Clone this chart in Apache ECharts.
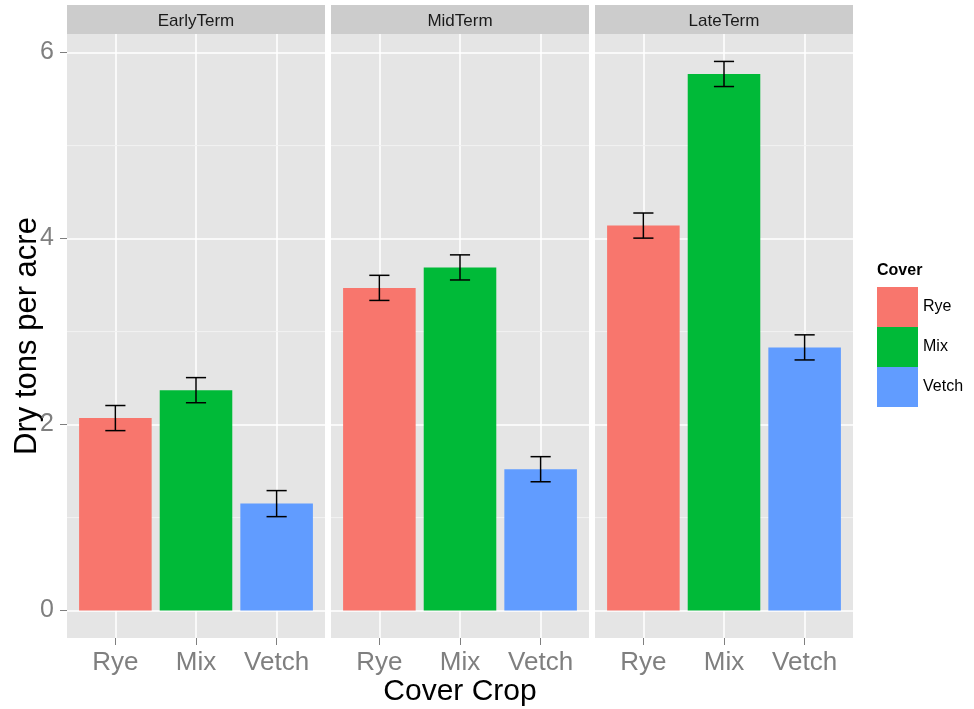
<!DOCTYPE html>
<html>
<head>
<meta charset="utf-8">
<script src="https://cdn.jsdelivr.net/npm/echarts@6/dist/echarts.min.js"></script>
<style>
  html, body { margin: 0; padding: 0; background: #ffffff; }
  #chart { width: 974px; height: 709px; }
</style>
</head>
<body>
<div id="chart"></div>
<script>
// Facets (termination timing) and cover crop treatments
const terms = ['EarlyTerm', 'MidTerm', 'LateTerm'];
const covers = ['Rye', 'Mix', 'Vetch'];

// Mean dry biomass (tons per acre) for Rye, Mix, Vetch in each facet
const earlyMeans = [2.07, 2.37, 1.15];
const midMeans = [3.47, 3.69, 1.52];
const lateMeans = [4.14, 5.77, 2.83];

// Standard errors used for the error bars
const earlySE = [0.135, 0.135, 0.14];
const midSE = [0.135, 0.135, 0.135];
const lateSE = [0.135, 0.135, 0.135];

// Axis ticks
const yTicks = [0, 2, 4, 6];
const yMinorTicks = [1, 3, 5];
const xTickPositions = [1, 2, 3];

const coverColors = ['#F8766D', '#00BA38', '#619CFF'];

const facetMeans = [earlyMeans, midMeans, lateMeans];
const facetSE = [earlySE, midSE, lateSE];

// Panel geometry
const panelLefts = [67, 331, 595];
const panelWidth = 258;
const panelTop = 34;
const panelHeight = 604;
const xMin = 0.4, xMax = 3.6;
const yMin = -0.295, yMax = 6.2;
const barPx = panelWidth / (xMax - xMin) * 0.9;
const FONT = 'Liberation Sans, Arial, sans-serif';

const chart = echarts.init(document.getElementById('chart'), null, { renderer: 'canvas' });

const grids = [], xAxes = [], yAxes = [], series = [], graphics = [];

terms.forEach((term, g) => {
  grids.push({
    left: panelLefts[g], top: panelTop, width: panelWidth, height: panelHeight,
    outerBoundsMode: 'none', containLabel: false,
    show: true, backgroundColor: '#e5e5e5', borderWidth: 0
  });

  xAxes.push({
    gridIndex: g, type: 'value', min: xMin, max: xMax, position: 'bottom',
    axisLine: { show: false, onZero: false },
    axisTick: { show: true, customValues: xTickPositions, length: 7, lineStyle: { color: '#7f7f7f', width: 1 } },
    axisLabel: {
      show: true, customValues: xTickPositions, margin: 12,
      formatter: v => covers[Math.round(v) - 1] || '',
      color: '#7f7f7f', fontSize: 26, fontFamily: FONT
    },
    splitLine: { show: true, lineStyle: { color: '#ffffff', width: 1.5 } },
    name: g === 1 ? 'Cover Crop' : '',
    nameLocation: 'middle', nameGap: 39, nameMoveOverlap: false,
    nameTextStyle: { color: '#000000', fontSize: 30, fontFamily: FONT }
  });

  yAxes.push({
    gridIndex: g, type: 'value', min: yMin, max: yMax, position: 'left',
    axisLine: { show: false, onZero: false },
    axisTick: { show: g === 0, customValues: yTicks, length: 7, lineStyle: { color: '#7f7f7f', width: 1 } },
    axisLabel: {
      show: g === 0, customValues: yTicks, margin: 13,
      color: '#7f7f7f', fontSize: 25, fontFamily: FONT
    },
    splitLine: { show: true, lineStyle: { color: '#ffffff', width: 1.5 } },
    name: g === 0 ? 'Dry tons per acre' : '',
    nameLocation: 'middle', nameRotate: 90, nameGap: 24, nameMoveOverlap: false,
    nameTextStyle: { color: '#000000', fontSize: 31, fontFamily: FONT }
  });

  // Minor horizontal grid lines, kept beneath the bars
  series.push({
    type: 'custom', xAxisIndex: g, yAxisIndex: g, z: 1, silent: true,
    data: yMinorTicks.map(v => [v]),
    renderItem: (params, api) => {
      const v = api.value(0);
      const a = api.coord([xMin, v]);
      const b = api.coord([xMax, v]);
      return { type: 'line', shape: { x1: a[0], y1: a[1], x2: b[0], y2: b[1] },
               style: { stroke: '#f2f2f2', lineWidth: 1 } };
    }
  });

  // Bars, one series per cover so the legend can list them
  covers.forEach((cover, c) => {
    series.push({
      type: 'bar', name: cover, xAxisIndex: g, yAxisIndex: g, z: 2,
      barWidth: barPx, barGap: '-100%',
      itemStyle: { color: coverColors[c] },
      data: [[c + 1, facetMeans[g][c]]]
    });
  });

  // Error bars (mean ± SE)
  series.push({
    type: 'custom', xAxisIndex: g, yAxisIndex: g, z: 3, silent: true,
    encode: { x: 0, y: [1, 2] },
    data: covers.map((_, c) => [c + 1, facetMeans[g][c] - facetSE[g][c], facetMeans[g][c] + facetSE[g][c]]),
    renderItem: (params, api) => {
      const x = api.value(0);
      const top = api.coord([x, api.value(2)]);
      const bot = api.coord([x, api.value(1)]);
      const half = api.size([0.25, 0])[0] / 2;
      const st = { stroke: '#000000', lineWidth: 1.5 };
      return {
        type: 'group',
        children: [
          { type: 'line', shape: { x1: top[0], y1: top[1], x2: bot[0], y2: bot[1] }, style: st },
          { type: 'line', shape: { x1: top[0] - half, y1: top[1], x2: top[0] + half, y2: top[1] }, style: st },
          { type: 'line', shape: { x1: bot[0] - half, y1: bot[1], x2: bot[0] + half, y2: bot[1] }, style: st }
        ]
      };
    }
  });

  // Facet strip
  graphics.push({
    type: 'group', left: panelLefts[g], top: 5,
    children: [
      { type: 'rect', shape: { x: 0, y: 0, width: panelWidth, height: 29 }, style: { fill: '#cccccc' } },
      { type: 'text', x: panelWidth / 2, y: 16,
        style: { text: term, fill: '#1a1a1a', fontSize: 17, fontFamily: FONT,
                 align: 'center', verticalAlign: 'middle' } }
    ]
  });
});

// Legend title
graphics.push({
  type: 'text', left: 877, top: 263,
  style: { text: 'Cover', fill: '#000000', fontSize: 16, fontWeight: 'bold', fontFamily: FONT }
});

chart.setOption({
  animation: false,
  backgroundColor: '#ffffff',
  grid: grids,
  xAxis: xAxes,
  yAxis: yAxes,
  legend: {
    data: covers, orient: 'vertical', left: 877, top: 287,
    itemWidth: 41, itemHeight: 40, itemGap: 0, padding: 0,
    icon: 'rect', selectedMode: false,
    textStyle: { color: '#000000', fontSize: 16, fontFamily: FONT }
  },
  graphic: graphics,
  series: series
});
</script>
</body>
</html>
